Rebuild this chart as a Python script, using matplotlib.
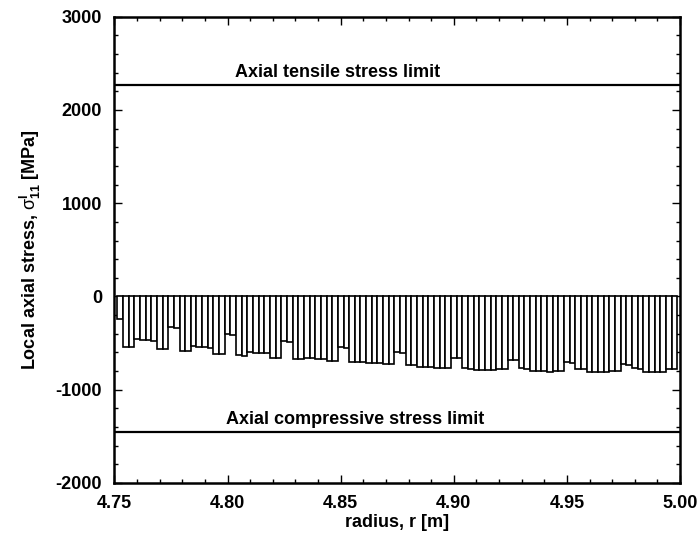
import numpy as np
import matplotlib
matplotlib.use("Agg")
import matplotlib.pyplot as plt
from matplotlib.ticker import MultipleLocator, FormatStrFormatter

plt.rcParams['font.family'] = ['Liberation Sans', 'DejaVu Sans']
plt.rcParams['mathtext.fontset'] = 'custom'
plt.rcParams['mathtext.rm'] = 'Liberation Sans'
plt.rcParams['mathtext.bf'] = 'Liberation Sans:bold'
plt.rcParams['axes.unicode_minus'] = False

# Ply geometry of the cylinder wall
r_inner = 4.75
ply_thickness = 0.0025

# Local axial stress in each ply, from inner to outer radius [MPa]
stress = [
    -240,
    -537, -537, -455, -462, -470, -480, -565, -568, -325, -337,
    -582, -590, -533, -540, -547, -553, -617, -622, -405, -414,
    -630, -634, -596, -601, -605, -611, -656, -660, -478, -485,
    -670, -670, -660, -663, -667, -672, -689, -693, -547, -553,
    -704, -705, -706, -709, -712, -716, -726, -728, -597, -601,
    -736, -740, -752, -755, -758, -762, -763, -765, -655, -659,
    -771, -775, -786, -788, -790, -792, -780, -776, -683, -686,
    -772, -774, -800, -802, -803, -805, -794, -795, -708, -712,
    -778, -780, -810, -812, -812, -810, -797, -797, -727, -730,
    -772, -775, -808, -810, -810, -811, -776, -778,
]

tensile_limit = 2270
compressive_limit = -1450

radius = r_inner + ply_thickness * np.arange(1, len(stress) + 1)

fig = plt.figure(figsize=(6.99, 5.37), dpi=100)
ax = fig.add_axes([0.1638, 0.1006, 0.8090, 0.8683])

ax.bar(radius, stress, width=ply_thickness, color='white',
       edgecolor='black', linewidth=1.2, zorder=2)

ax.axhline(tensile_limit, color='black', linewidth=1.6, zorder=3)
ax.axhline(compressive_limit, color='black', linewidth=1.6, zorder=3)

ax.text(4.8488, tensile_limit + 40, 'Axial tensile stress limit',
        ha='center', va='bottom', fontsize=13, fontweight='bold')
ax.text(4.8565, compressive_limit + 35, 'Axial compressive stress limit',
        ha='center', va='bottom', fontsize=13, fontweight='bold')

ax.set_xlim(4.75, 5.00)
ax.set_ylim(-2000, 3000)

ax.xaxis.set_major_locator(MultipleLocator(0.05))
ax.xaxis.set_minor_locator(MultipleLocator(0.01))
ax.xaxis.set_major_formatter(FormatStrFormatter('%.2f'))
ax.yaxis.set_major_locator(MultipleLocator(1000))
ax.yaxis.set_minor_locator(MultipleLocator(200))

ax.tick_params(which='both', direction='in', top=True, right=True,
               labelsize=13, width=1.0)
ax.tick_params(which='major', length=6)
ax.tick_params(which='minor', length=3)
ax.tick_params(axis='y', which='major', pad=9)
ax.tick_params(axis='x', which='major', pad=9)
for lab in ax.get_xticklabels() + ax.get_yticklabels():
    lab.set_fontweight('bold')

for s in ax.spines.values():
    s.set_linewidth(1.8)

ax.set_xlabel('radius, r [m]', fontsize=13, fontweight='bold', labelpad=1)
ax.set_ylabel(r'Local axial stress, $\mathrm{\sigma}_{\mathbf{11}}^{\mathbf{l}}$ [MPa]',
              fontsize=13, fontweight='bold', labelpad=9)

fig.savefig('out.png', dpi=100)
